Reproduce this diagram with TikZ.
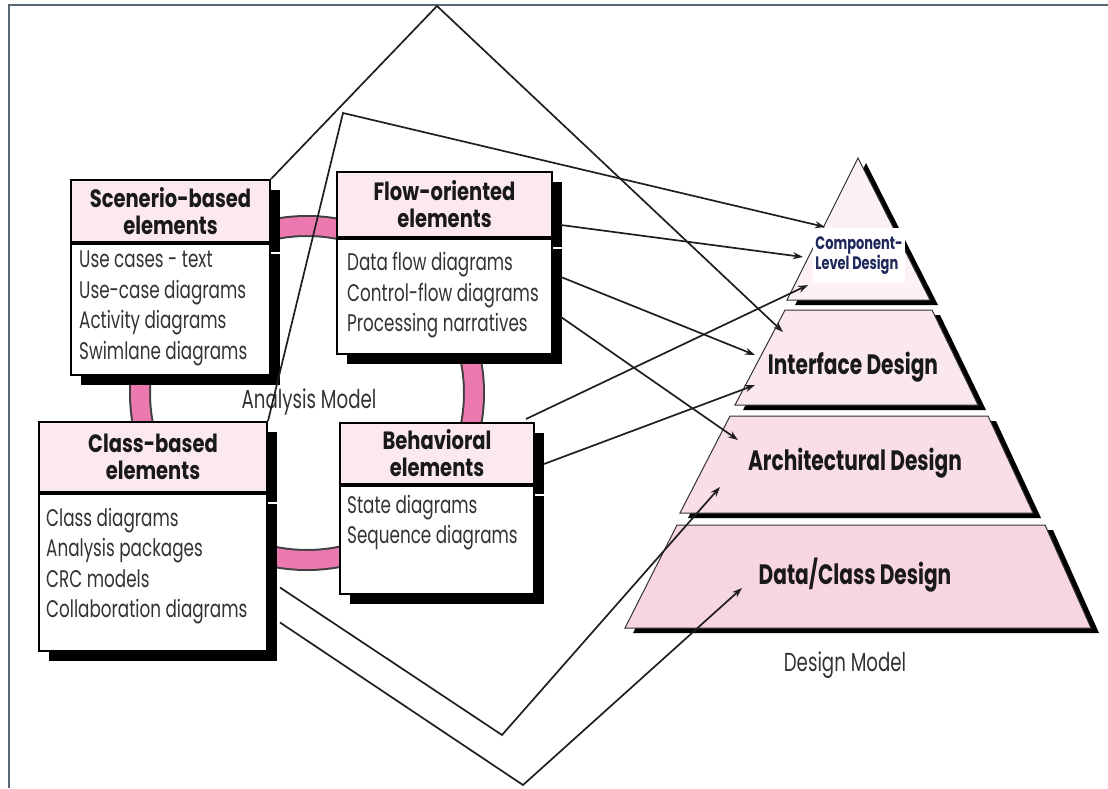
\documentclass[tikz,border=0pt]{standalone}
\usepackage{fontspec}
\setmainfont{Poppins}[FakeStretch=0.70]
\newfontfamily\headfont{Poppins}[FakeStretch=0.78]
\newfontfamily\slabfont{Poppins}[FakeStretch=0.72]
\usetikzlibrary{positioning,shadows,arrows.meta}

\definecolor{headpink}{RGB}{252,232,240}
\definecolor{ringpink}{RGB}{236,120,176}
\definecolor{clpink}{RGB}{253,241,246}
\definecolor{ifpink}{RGB}{251,231,239}
\definecolor{arpink}{RGB}{249,221,233}
\definecolor{dcpink}{RGB}{247,213,227}
\definecolor{framegray}{RGB}{90,104,120}
\definecolor{labelnavy}{RGB}{30,40,90}

\begin{document}
\begin{tikzpicture}
      [x=1pt, y=-1pt,
       head/.style={draw, line width=2pt, fill=headpink, align=center, inner sep=0pt,
         font=\headfont\bfseries\fontsize{25}{27}\selectfont, text=black!90,
         drop shadow={fill=black, opacity=1, shadow xshift=10pt, shadow yshift=-10pt}},
       body/.style={draw, line width=2pt, fill=white, inner sep=0pt,
         drop shadow={fill=black, opacity=1, shadow xshift=10pt, shadow yshift=-10pt}},
       list/.style={align=left, inner sep=0pt, text=black!80,
         font=\fontsize{24}{30.5}\selectfont},
       slab/.style={draw=black!80, line width=1pt},
       slabtext/.style={font=\slabfont\bfseries\fontsize{28}{30}\selectfont, text=black!90},
       modeltext/.style={font=\fontsize{26}{28}\selectfont, text=black!80},
       arr/.style={-{Stealth[length=10pt,width=7pt]}, line width=1.7pt, black!88},
       poly/.style={arr, line join=miter}]
      \useasboundingbox (0,0) rectangle (1108,788);
      \draw[framegray, line width=1.5pt] (9,788) -- (9,5) -- (1108,5);

      \draw[line width=22pt, black!75] (307,393) circle[radius=167pt];
      \draw[line width=18pt, ringpink] (307,393) circle[radius=167pt];
      \node[modeltext] (analysis) at (309,402) {Analysis Model};

      \node[head, minimum width=199, minimum height=62] (scenHead) at (170.5,211) {Scenerio-based\\elements};
      \node[body, minimum width=199, minimum height=131, below=0pt of scenHead] (scenBody) {};
      \node[list, anchor=north west] (scenList) at ([xshift=9pt,yshift=-8pt]scenBody.north west)
        {Use cases - text\\Use-case diagrams\\Activity diagrams\\Swimlane diagrams};

      \node[head, minimum width=215, minimum height=65] (flowHead) at (444.5,204.5) {Flow-oriented\\elements};
      \node[body, minimum width=215, minimum height=115, below=0pt of flowHead] (flowBody) {};
      \node[list, anchor=north west] (flowList) at ([xshift=11pt,yshift=-14pt]flowBody.north west)
        {Data flow diagrams\\Control-flow diagrams\\Processing narratives};

      \node[head, minimum width=228, minimum height=70] (classHead) at (153,457) {Class-based\\elements};
      \node[body, minimum width=228, minimum height=157, below=0pt of classHead] (classBody) {};
      \node[list, anchor=north west] (classList) at ([xshift=8pt,yshift=-15pt]classBody.north west)
        {Class diagrams\\Analysis packages\\CRC models\\Collaboration diagrams};

      \node[head, minimum width=194, minimum height=61] (behHead) at (437,453.5) {Behavioral\\elements};
      \node[body, minimum width=194, minimum height=108, below=0pt of behHead] (behBody) {};
      \node[list, anchor=north west] (behList) at ([xshift=8pt,yshift=-10pt]behBody.north west)
        {State diagrams\\Sequence diagrams};

      \fill (866,163) -- (795,305) -- (938,305) -- cycle;
      \filldraw[slab, fill=clpink] (858,158) -- (787,300) -- (930,300) -- cycle;
      \fill (793,315) -- (940,315) -- (986,410) -- (743,410) -- cycle;
      \filldraw[slab, fill=ifpink] (785,310) -- (932,310) -- (978,405) -- (735,405) -- cycle;
      \fill (738,421) -- (996,421) -- (1041,518) -- (688,518) -- cycle;
      \filldraw[slab, fill=arpink] (730,416) -- (988,416) -- (1033,513) -- (680,513) -- cycle;
      \fill (685,530) -- (1053,530) -- (1099,633) -- (633,633) -- cycle;
      \filldraw[slab, fill=dcpink] (677,525) -- (1045,525) -- (1091,628) -- (625,628) -- cycle;

      \node[fill=white, text=labelnavy, align=left, inner sep=0pt, minimum width=92, minimum height=55,
        font=\slabfont\bfseries\fontsize{18}{20}\selectfont] (compLabel) at (859,255.5) {Component-\\Level Design};
      \node[slabtext] (ifLabel) at (853,367) {Interface Design};
      \node[slabtext] (arLabel) at (855,463) {Architectural Design};
      \node[slabtext] (dcLabel) at (855,575) {Data/Class Design};
      \node[modeltext] (design) at (845,665) {Design Model};

      \coordinate (topA) at (437,6);
      \coordinate (topB) at (343,113);
      \coordinate (lowA) at (502,735);
      \coordinate (lowB) at (523,785);
      \coordinate (toComp1) at (825,227);
      \coordinate (toComp2) at (803,257);
      \coordinate (toComp3) at (808,285);
      \coordinate (toIf1) at (783,332);
      \coordinate (toIf2) at (755,355);
      \coordinate (toIf3) at (755,385);
      \coordinate (toAr1) at (738,440);
      \coordinate (toAr2) at (720,487);
      \coordinate (toDc) at (742,588);

      \draw[poly] (scenHead.north east) -- (topA) -- (toIf1);
      \draw[poly] (classHead.north east) -- (topB) -- (toComp1);
      \draw[poly] ([xshift=12pt,yshift=-15pt]classBody.east) -- (lowA) -- (toAr2);
      \draw[poly] ([xshift=12pt,yshift=-50pt]classBody.east) -- (lowB) -- (toDc);
      \draw[arr] ([xshift=8pt,yshift=13pt]flowBody.north east) -- (toComp2);
      \draw[arr] ([xshift=8pt,yshift=19.5pt]flowBody.east) -- (toIf2);
      \draw[arr] ([xshift=8pt,yshift=-20.5pt]flowBody.east) -- (toAr1);
      \draw[arr] ([xshift=-9pt,yshift=3pt]behHead.north east) -- (toComp3);
      \draw[arr] ([xshift=9pt,yshift=-10.5pt]behHead.east) -- (toIf3);
  \end{tikzpicture}
\end{document}
